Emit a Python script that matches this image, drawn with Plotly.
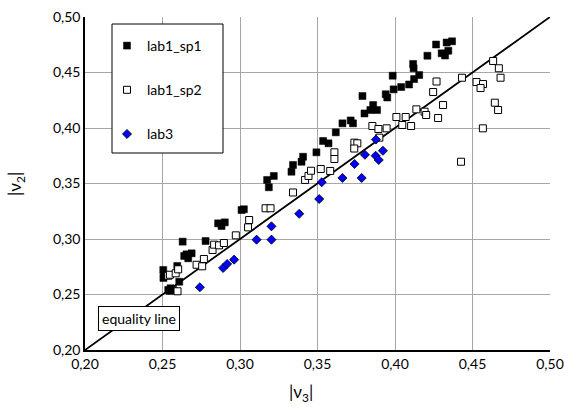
import plotly.graph_objects as go

# ---- data ----
sp1_x = [0.2505, 0.2509, 0.2506, 0.2537, 0.2552, 0.2569, 0.2548, 0.2608, 0.2595, 0.2640,
         0.2655, 0.2666, 0.2688, 0.2630, 0.2778, 0.2859, 0.2881, 0.2902, 0.3010, 0.3025,
         0.3175, 0.3186, 0.3218, 0.3332, 0.3342, 0.3397, 0.3407, 0.3493, 0.3536, 0.3571,
         0.3618, 0.3661, 0.3714, 0.3729, 0.3790, 0.3803, 0.3841, 0.3884, 0.3859, 0.3940,
         0.3950, 0.3985, 0.3991, 0.4040, 0.4091, 0.4120, 0.4117, 0.4156, 0.4123, 0.4209,
         0.4265, 0.4301, 0.4323, 0.4344, 0.4333, 0.4368]
sp1_y = [0.2721, 0.2669, 0.2649, 0.2541, 0.2556, 0.2541, 0.2532, 0.2615, 0.2757, 0.2847,
         0.2862, 0.2826, 0.2871, 0.2976, 0.2982, 0.3141, 0.3117, 0.3150, 0.3261, 0.3268,
         0.3532, 0.3466, 0.3568, 0.3606, 0.3667, 0.3696, 0.3741, 0.3781, 0.3883, 0.3862,
         0.3961, 0.4042, 0.4068, 0.4042, 0.4288, 0.4131, 0.4162, 0.4162, 0.4207, 0.4304,
         0.4275, 0.4471, 0.4348, 0.4369, 0.4392, 0.4538, 0.4577, 0.4477, 0.4441, 0.4651,
         0.4752, 0.4673, 0.4653, 0.4696, 0.4770, 0.4781]

sp2_x = [0.2597, 0.2537, 0.2548, 0.2585, 0.2601, 0.2720, 0.2756, 0.2767, 0.2823, 0.2833,
         0.2865, 0.2896, 0.2973, 0.3052, 0.3059, 0.3165, 0.3197, 0.3342, 0.3420, 0.3442,
         0.3458, 0.3521, 0.3582, 0.3609, 0.3609, 0.3738, 0.3757, 0.3737, 0.3854, 0.3893,
         0.3946, 0.3899, 0.4009, 0.4069, 0.4047, 0.4104, 0.4138, 0.4191, 0.4201, 0.4278,
         0.4310, 0.4246, 0.4268, 0.4432, 0.4526, 0.4568, 0.4552, 0.4633, 0.4670, 0.4681,
         0.4644, 0.4665, 0.4567, 0.4426]
sp2_y = [0.2529, 0.2669, 0.2678, 0.2691, 0.2727, 0.2768, 0.2754, 0.2820, 0.2901, 0.2949,
         0.2943, 0.2964, 0.3033, 0.3105, 0.3171, 0.3277, 0.3277, 0.3419, 0.3532, 0.3568,
         0.3615, 0.3631, 0.3613, 0.3781, 0.3721, 0.3868, 0.3862, 0.3815, 0.4018, 0.3991,
         0.3997, 0.3913, 0.4099, 0.4099, 0.4027, 0.4018, 0.4168, 0.4147, 0.4117, 0.4090,
         0.4207, 0.4324, 0.4419, 0.4453, 0.4414, 0.4396, 0.4360, 0.4604, 0.4538, 0.4453,
         0.4228, 0.4162, 0.3997, 0.3696]

lab3_x = [0.2741, 0.2891, 0.2917, 0.2962, 0.3107, 0.3203, 0.3203, 0.3382, 0.3511, 0.3527,
          0.3661, 0.3785, 0.3739, 0.3806, 0.3875, 0.3895, 0.3922, 0.3877]
lab3_y = [0.2565, 0.2739, 0.2775, 0.2814, 0.2994, 0.2994, 0.3114, 0.3227, 0.3360, 0.3511,
          0.3550, 0.3550, 0.3676, 0.3759, 0.3750, 0.3712, 0.3795, 0.3896]

eq_line = [0.20, 0.50]
tick_vals = [0.20, 0.25, 0.30, 0.35, 0.40, 0.45, 0.50]

FONT = "Lato"

fig = go.Figure()
fig.add_trace(go.Scatter(x=eq_line, y=eq_line, mode="lines",
                         line=dict(color="black", width=1.8), showlegend=False,
                         hoverinfo="skip"))
fig.add_trace(go.Scatter(x=sp1_x, y=sp1_y, mode="markers", name="lab1_sp1",
                         legendgroup="a",
                         marker=dict(symbol="square", size=7, color="black",
                                     line=dict(color="black", width=0.5))))
fig.add_trace(go.Scatter(x=sp2_x, y=sp2_y, mode="markers", name="lab1_sp2",
                         legendgroup="b",
                         marker=dict(symbol="square", size=7, color="white",
                                     line=dict(color="black", width=1))))
fig.add_trace(go.Scatter(x=lab3_x, y=lab3_y, mode="markers", name="lab3",
                         legendgroup="c",
                         marker=dict(symbol="diamond", size=7, color="#0000FF",
                                     line=dict(color="black", width=0.8))))

L, R, T, B = 85, 14, 17, 57
W, H = 564, 407
pw, ph = W - L - R, H - T - B

def px(xp):
    return (xp - L) / pw

def py(yp):
    return (H - B - yp) / ph

axis_common = dict(range=[0.20, 0.50], tickvals=tick_vals, tickformat=".2f",
                   showgrid=True, gridcolor="#A6A6A6", gridwidth=1,
                   zeroline=False, ticks="", automargin=False,
                   tickfont=dict(family=FONT, size=14, color="black"))

fig.update_layout(
    width=W, height=H,
    margin=dict(l=L, r=R, t=T, b=B, autoexpand=False),
    paper_bgcolor="white", plot_bgcolor="white",
    separators=", ",
    font=dict(family=FONT, size=14, color="black"),
    xaxis=dict(**axis_common, showline=True, linecolor="black", linewidth=1.5,
               mirror=False),
    yaxis=dict(**axis_common, showline=True, linecolor="black", linewidth=1.5,
               mirror=False),
    legend=dict(x=px(107), y=py(30), xanchor="left", yanchor="top",
                bgcolor="rgba(0,0,0,0)", borderwidth=0,
                tracegroupgap=23, font=dict(family=FONT, size=14)),
    shapes=[dict(type="rect", xref="paper", yref="paper",
                 x0=px(112), x1=px(223), y0=py(153), y1=py(24),
                 line=dict(color="black", width=1), fillcolor="white",
                 layer="above")],
    annotations=[
        dict(text="|ν<sub>3</sub>|", xref="paper", yref="paper",
             x=px(301), y=py(393), xanchor="center", yanchor="middle",
             showarrow=False, font=dict(family=FONT, size=17)),
        dict(text="|ν<sub>2</sub>|", xref="paper", yref="paper",
             x=px(16), y=py(184), xanchor="center", yanchor="middle",
             textangle=-90, showarrow=False, font=dict(family=FONT, size=17)),
        dict(text="equality line", xref="paper", yref="paper",
             x=px(139), y=py(318), xanchor="center", yanchor="middle",
             showarrow=False, font=dict(family=FONT, size=14),
             bgcolor="white", bordercolor="black", borderwidth=1, borderpad=3),
    ],
)

fig.write_html("out.html",
               config={"displayModeBar": False},
               post_script="document.body.style.margin='0';document.body.style.overflow='hidden';")
